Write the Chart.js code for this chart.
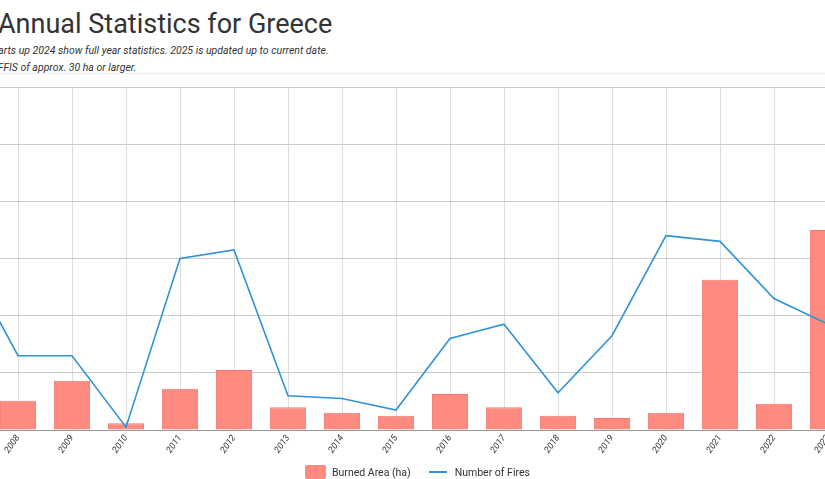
<!DOCTYPE html>
<html><head><meta charset="utf-8">
<script src="https://cdn.jsdelivr.net/npm/chart.js@4"></script>
<style>
body{margin:0;width:825px;height:479px;overflow:hidden;position:relative;background:#fff;font-family:Roboto,sans-serif;}
#t{position:absolute;left:-2px;top:8px;font-size:27px;color:#333;white-space:nowrap;}
.s{position:absolute;font-size:10.5px;font-style:italic;color:#333;white-space:nowrap;}
#hl{position:absolute;left:0;right:0;top:73px;border-top:1px solid #eee;}
#wrap{position:absolute;left:-63px;top:87px;width:1026px;height:392px;}
#leg{position:absolute;top:465px;left:305px;font-size:10.5px;color:#333;display:flex;align-items:center;white-space:nowrap;}
</style></head><body>
<div id="t">Annual Statistics for Greece</div>
<div class="s" style="left:-14px;top:44px">Charts up 2024 show full year statistics. 2025 is updated up to current date.</div>
<div class="s" style="left:-8px;top:61px">EFFIS of approx. 30 ha or larger.</div>
<div id="hl"></div>
<div id="wrap"><canvas id="c"></canvas></div>
<div id="leg"><span style="display:inline-block;width:21px;height:14px;background:#ff8a80;border-radius:2px;margin-right:6px"></span>Burned Area (ha)<span style="display:inline-block;width:18px;height:2px;background:#2f93d6;margin:0 8px 0 18px"></span>Number of Fires</div>
<script>
const years=['2007','2008','2009','2010','2011','2012','2013','2014','2015','2016','2017','2018','2019','2020','2021','2022','2023','2024','2025'];
const burnedArea=[150000,25500,43000,6000,36000,52500,20000,15000,12500,31500,20000,12500,10500,15000,131500,23000,175000,45000,30000];
const numberOfFires=[61,26,26,1,60,63,12,11,7,32,37,13,33,68,66,46,37,45,40];
new Chart(document.getElementById('c'),{
 data:{labels:years,datasets:[
  {type:'line',data:numberOfFires,yAxisID:'y1',borderColor:'#2f93d6',borderWidth:1.6,pointRadius:0,tension:0,order:0},
  {type:'bar',data:burnedArea,yAxisID:'y',backgroundColor:'#ff8a80',borderColor:'#f07a70',borderWidth:1,barPercentage:0.67,categoryPercentage:1,order:1}
 ]},
 options:{responsive:true,maintainAspectRatio:false,animation:false,
  layout:{padding:0},
  plugins:{legend:{display:false},tooltip:{enabled:false}},
  scales:{
   x:{grid:{offset:false,color:'#ddd',drawTicks:false},border:{color:'#999'},
      ticks:{minRotation:55,maxRotation:55,font:{family:'Roboto',size:9,style:'italic'},color:'#333',padding:3},
      afterFit:s=>{s.height=49;}},
   y:{min:0,max:300000,ticks:{display:false,stepSize:50000},grid:{color:'#ccc',drawTicks:false},border:{display:false},afterFit:s=>{s.width=0;}},
   y1:{position:'right',min:0,max:120,display:false}
  }}
});
</script></body></html>
